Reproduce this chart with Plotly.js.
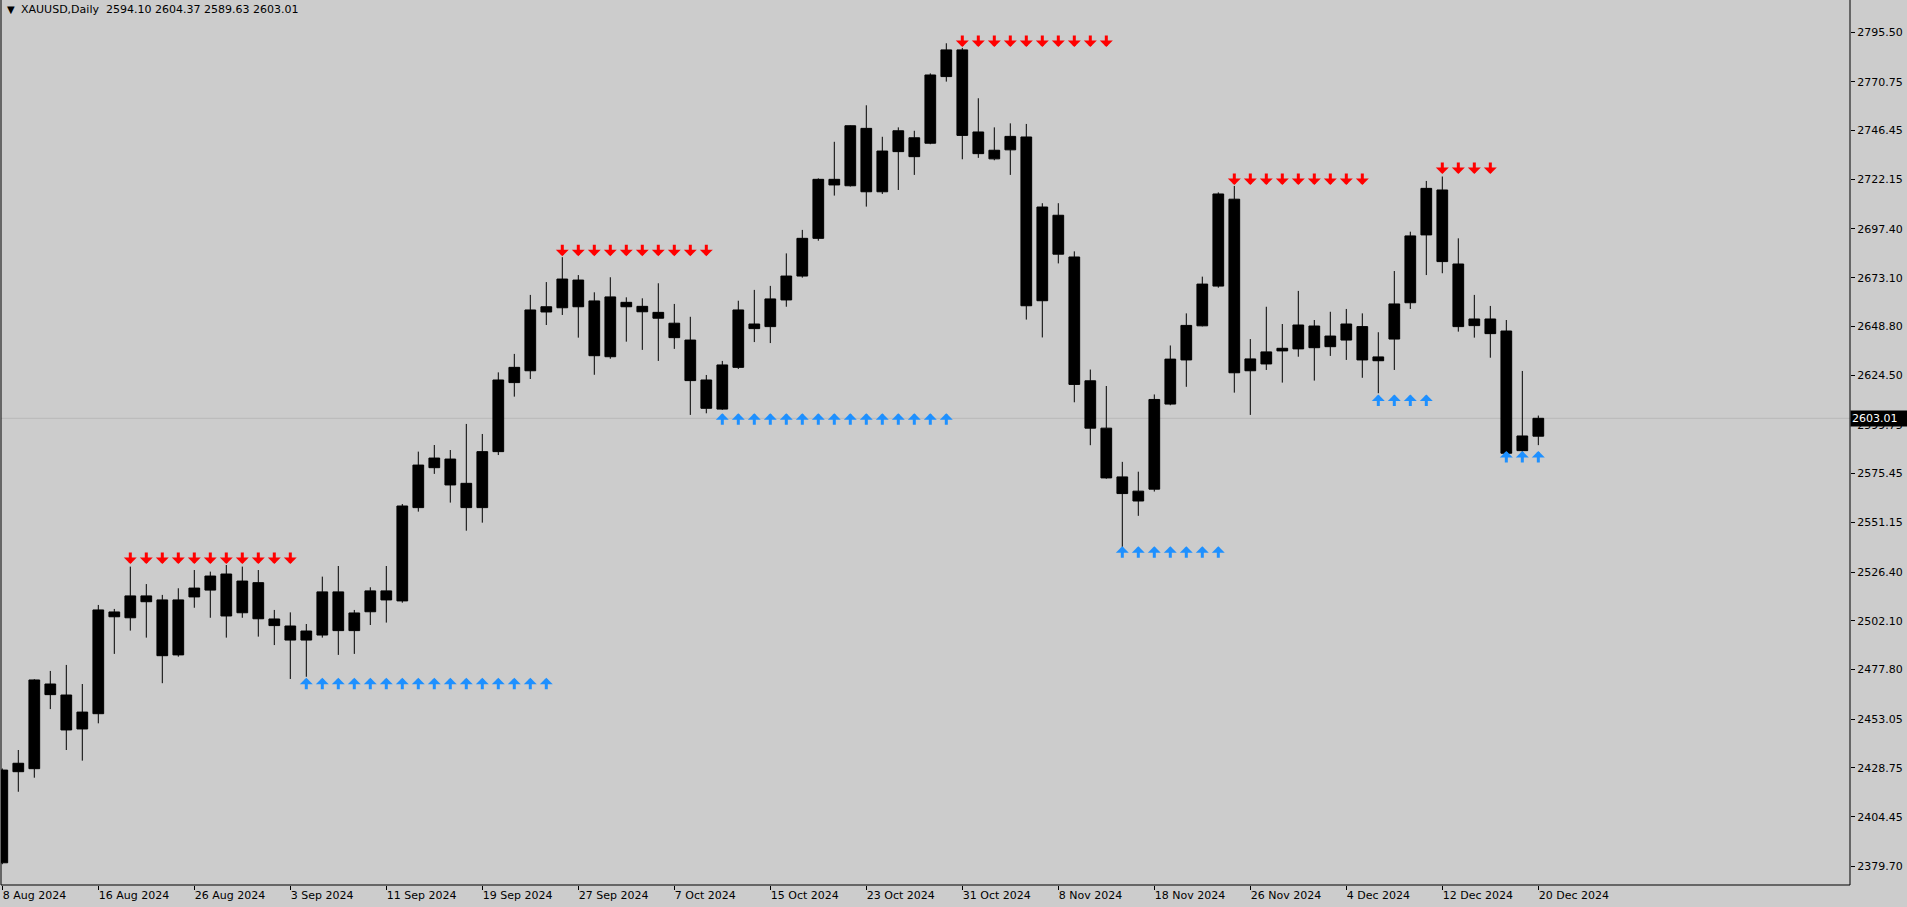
<!DOCTYPE html>
<html>
<head>
<meta charset="utf-8">
<script src="https://cdn.plot.ly/plotly-3.0.1.min.js"></script>
<style>
html,body{margin:0;padding:0;background:#cccccc;}
#chart{width:1907px;height:907px;}
</style>
</head>
<body>
<div id="chart"></div>
<script>
// ---- data ----
const dates = [
"2024-08-08","2024-08-09","2024-08-12","2024-08-13","2024-08-14","2024-08-15","2024-08-16","2024-08-19","2024-08-20","2024-08-21",
"2024-08-22","2024-08-23","2024-08-26","2024-08-27","2024-08-28","2024-08-29","2024-08-30","2024-09-02","2024-09-03","2024-09-04",
"2024-09-05","2024-09-06","2024-09-09","2024-09-10","2024-09-11","2024-09-12","2024-09-13","2024-09-16","2024-09-17","2024-09-18",
"2024-09-19","2024-09-20","2024-09-23","2024-09-24","2024-09-25","2024-09-26","2024-09-27","2024-09-30","2024-10-01","2024-10-02",
"2024-10-03","2024-10-04","2024-10-07","2024-10-08","2024-10-09","2024-10-10","2024-10-11","2024-10-14","2024-10-15","2024-10-16",
"2024-10-17","2024-10-18","2024-10-21","2024-10-22","2024-10-23","2024-10-24","2024-10-25","2024-10-28","2024-10-29","2024-10-30",
"2024-10-31","2024-11-01","2024-11-04","2024-11-05","2024-11-06","2024-11-07","2024-11-08","2024-11-11","2024-11-12","2024-11-13",
"2024-11-14","2024-11-15","2024-11-18","2024-11-19","2024-11-20","2024-11-21","2024-11-22","2024-11-25","2024-11-26","2024-11-27",
"2024-11-28","2024-11-29","2024-12-02","2024-12-03","2024-12-04","2024-12-05","2024-12-06","2024-12-09","2024-12-10","2024-12-11",
"2024-12-12","2024-12-13","2024-12-16","2024-12-17","2024-12-18","2024-12-19","2024-12-20"
];
const openP = [
2381.5,2426.9,2428.4,2470.6,2465.1,2448.2,2455.8,2506.5,2503.6,2514.5,
2512.5,2485.1,2514.0,2517.4,2525.4,2506.1,2521.1,2503.0,2499.5,2492.5,
2495.0,2516.5,2497.2,2506.6,2517.0,2512.0,2558.5,2578.4,2582.7,2570.6,
2558.5,2586.4,2620.8,2626.7,2656.0,2658.1,2671.9,2661.5,2633.7,2660.8,
2658.8,2655.8,2650.4,2642.0,2622.1,2607.6,2628.4,2650.0,2648.7,2662.0,
2673.9,2692.7,2722.1,2718.9,2747.5,2715.9,2735.9,2742.8,2740.1,2773.3,
2786.6,2745.7,2732.3,2736.8,2743.2,2661.6,2704.2,2683.4,2621.7,2598.1,
2573.8,2566.7,2567.7,2610.1,2632.1,2649.1,2668.9,2712.2,2626.7,2630.1,
2636.6,2637.6,2649.0,2638.7,2642.0,2648.7,2633.6,2642.5,2660.6,2694.4,
2716.8,2679.9,2652.5,2652.5,2646.5,2586.9,2594.10
];
const highP = [
2428.5,2437.7,2473.0,2477.1,2480.1,2470.6,2510.0,2508.0,2529.1,2520.4,
2515.0,2518.3,2527.4,2526.6,2529.9,2529.1,2527.4,2507.5,2506.3,2500.5,
2524.1,2529.4,2507.5,2518.8,2529.4,2560.3,2586.4,2589.7,2587.2,2600.2,
2595.2,2625.9,2635.1,2664.5,2670.9,2683.3,2674.4,2665.8,2673.3,2663.3,
2662.8,2670.3,2660.0,2653.6,2624.6,2631.6,2661.6,2667.0,2669.0,2685.2,
2696.9,2722.6,2740.8,2749.0,2759.0,2743.3,2748.0,2746.3,2774.9,2789.9,
2787.6,2762.5,2748.0,2750.0,2749.7,2710.2,2710.2,2686.2,2627.3,2619.1,
2581.3,2576.4,2614.9,2639.3,2655.3,2673.6,2715.6,2718.8,2642.5,2658.6,
2650.0,2666.5,2652.0,2656.1,2657.5,2655.3,2645.9,2676.4,2696.0,2721.3,
2723.5,2692.7,2664.5,2659.0,2652.0,2626.6,2604.37
];
const lowP = [
2380.8,2416.9,2423.9,2458.1,2437.7,2432.4,2451.0,2485.6,2497.2,2493.7,
2471.0,2484.2,2508.6,2503.6,2493.7,2503.6,2494.2,2490.0,2473.1,2474.2,
2493.7,2485.1,2485.6,2500.0,2501.2,2511.1,2556.5,2575.3,2561.0,2547.0,
2551.0,2584.7,2613.8,2622.6,2649.5,2654.5,2643.2,2624.7,2632.7,2641.2,
2637.1,2631.6,2637.6,2604.7,2605.5,2607.2,2627.6,2641.0,2640.5,2658.6,
2673.1,2691.5,2714.0,2718.5,2708.5,2714.8,2716.8,2724.3,2739.6,2770.8,
2732.1,2732.8,2731.6,2724.3,2652.2,2643.3,2680.2,2611.0,2589.6,2572.9,
2538.9,2554.4,2566.5,2609.5,2618.7,2648.8,2668.1,2615.8,2604.7,2627.1,
2620.8,2633.7,2621.8,2634.1,2632.1,2623.2,2615.5,2627.1,2657.5,2674.4,
2675.3,2646.2,2643.2,2633.2,2584.7,2586.3,2589.63
];
const closeP = [
2427.7,2431.1,2472.6,2465.3,2447.7,2456.6,2507.5,2504.1,2514.5,2511.6,
2484.7,2512.5,2518.4,2524.4,2504.5,2521.9,2503.1,2499.7,2492.5,2497.0,
2516.5,2497.2,2506.0,2517.0,2512.5,2559.3,2579.7,2583.2,2569.8,2558.5,
2586.4,2622.1,2628.4,2657.0,2658.6,2672.4,2658.6,2634.2,2663.5,2658.6,
2656.1,2652.9,2643.2,2621.8,2608.0,2629.6,2657.0,2647.7,2662.5,2673.9,
2692.7,2722.1,2719.3,2748.8,2715.9,2736.2,2746.3,2733.4,2774.1,2786.6,
2744.0,2734.9,2736.6,2743.5,2659.1,2708.3,2684.8,2619.9,2598.1,2573.3,
2565.5,2561.8,2612.4,2632.5,2649.3,2669.9,2714.8,2625.7,2632.6,2636.1,
2637.9,2649.5,2638.2,2644.0,2650.0,2632.1,2631.7,2660.0,2693.9,2717.6,
2681.1,2648.7,2649.2,2645.2,2585.6,2594.2,2603.01
];

// x-axis labels (every 6th bar)
const xTickDates = ["2024-08-08","2024-08-16","2024-08-26","2024-09-03","2024-09-11","2024-09-19","2024-09-27","2024-10-07","2024-10-15","2024-10-23","2024-10-31","2024-11-08","2024-11-18","2024-11-26","2024-12-04","2024-12-12","2024-12-20"];
const xTickLabels = ["8 Aug 2024","16 Aug 2024","26 Aug 2024","3 Sep 2024","11 Sep 2024","19 Sep 2024","27 Sep 2024","7 Oct 2024","15 Oct 2024","23 Oct 2024","31 Oct 2024","8 Nov 2024","18 Nov 2024","26 Nov 2024","4 Dec 2024","12 Dec 2024","20 Dec 2024"];

// y-axis labels
const yTickVals = [2795.50,2770.75,2746.45,2722.15,2697.40,2673.10,2648.80,2624.50,2599.75,2575.45,2551.15,2526.40,2502.10,2477.80,2453.05,2428.75,2404.45,2379.70];
const yTickLabels = yTickVals.map(v => v.toFixed(2));

// indicator arrows: down (red) groups and up (blue) groups
const dnStart = [8, 35, 60, 77, 90];
const dnEnd   = [18, 44, 69, 85, 93];
const dnLevel = [2530.4, 2683.8, 2788.0, 2719.3, 2724.8];
const upStart = [19, 45, 70, 86, 94];
const upEnd   = [34, 59, 76, 89, 96];
const upLevel = [2473.7, 2605.5, 2539.2, 2614.9, 2586.7];

// header / current price
const symbolText = "XAUUSD,Daily";
const lastOHLC = [2594.10, 2604.37, 2589.63, 2603.01];
const lastPrice = 2603.01;

// ---- chart ----
const FONT = "DejaVu Sans, Verdana, sans-serif";
const annotations = [];

function addArrows(starts, ends, levels, color, dir) {
  for (let g = 0; g < starts.length; g++) {
    for (let i = starts[g]; i <= ends[g]; i++) {
      annotations.push({
        x: dates[i], y: levels[g], xref: 'x', yref: 'y',
        text: '', showarrow: true,
        ax: 0, ay: dir === 'down' ? -13 : 13,
        axref: 'pixel', ayref: 'pixel',
        arrowhead: 1, arrowsize: 0.72, arrowwidth: 3,
        arrowcolor: color, standoff: 0
      });
    }
  }
}
addArrows(dnStart, dnEnd, dnLevel, '#ff0000', 'down');
addArrows(upStart, upEnd, upLevel, '#1e90ff', 'up');

annotations.push({
  xref: 'paper', yref: 'paper', x: 0, y: 1, xanchor: 'left', yanchor: 'top',
  xshift: 4, yshift: -2, showarrow: false,
  text: '▼', font: {family: FONT, size: 10, color: '#000'}
});
annotations.push({
  xref: 'paper', yref: 'paper', x: 0, y: 1, xanchor: 'left', yanchor: 'top',
  xshift: 18, yshift: -1, showarrow: false,
  text: symbolText + '  ' + lastOHLC.map(v => v.toFixed(2)).join(' '),
  font: {family: FONT, size: 11, color: '#000'}
});
annotations.push({
  xref: 'paper', yref: 'y', x: 1, y: lastPrice, xanchor: 'left', yanchor: 'middle',
  showarrow: false, text: lastPrice.toFixed(2), align: 'left',
  bgcolor: '#000000', borderpad: 1, width: 54,
  font: {family: FONT, size: 11, color: '#ffffff'}
});

const trace = {
  type: 'candlestick',
  x: dates, open: openP, high: highP, low: lowP, close: closeP,
  increasing: {line: {color: '#000000', width: 1}, fillcolor: '#000000'},
  decreasing: {line: {color: '#000000', width: 1}, fillcolor: '#000000'},
  whiskerwidth: 0,
  hoverinfo: 'none'
};

const layout = {
  width: 1907, height: 907,
  margin: {l: 1, r: 57, t: 0, b: 22, pad: 0, autoexpand: false},
  paper_bgcolor: '#cccccc', plot_bgcolor: '#cccccc',
  showlegend: false,
  boxgap: 0.33, boxgroupgap: 0,
  font: {family: FONT, size: 11, color: '#000'},
  xaxis: {
    type: 'category',
    range: [-0.081, 115.48],
    rangeslider: {visible: false},
    automargin: false,
    tickmode: 'array', tickvals: xTickDates, ticktext: xTickLabels,
    ticks: 'outside', ticklen: 4, tickcolor: '#000', tickwidth: 1,
    ticklabelposition: 'outside right',
    tickfont: {family: FONT, size: 11, color: '#000'},
    showline: false,
    showgrid: false, zeroline: false, fixedrange: true
  },
  yaxis: {
    side: 'right',
    range: [2370.43, 2811.47],
    automargin: false,
    tickmode: 'array', tickvals: yTickVals, ticktext: yTickLabels,
    ticks: 'outside', ticklen: 4, tickcolor: '#000', tickwidth: 1,
    tickfont: {family: FONT, size: 11, color: '#000'},
    showline: false,
    showgrid: false, zeroline: false, fixedrange: true
  },
  shapes: [
    {type: 'line', xref: 'paper', yref: 'y', x0: 0, x1: 1, y0: lastPrice, y1: lastPrice,
     line: {color: '#b8b8b8', width: 1}, layer: 'below'},
    {type: 'line', xref: 'paper', yref: 'paper', x0: 1, x1: 1, y0: 0, y1: 1,
     line: {color: '#000000', width: 1}, layer: 'above'},
    {type: 'line', xref: 'paper', yref: 'paper', x0: 0, x1: 0, y0: 0, y1: 1,
     line: {color: '#000000', width: 1}, layer: 'above'},
    {type: 'line', xref: 'paper', yref: 'paper', x0: 0, x1: 1, y0: 0, y1: 0,
     line: {color: '#000000', width: 1}, layer: 'above'}
  ],
  annotations: annotations
};

Plotly.newPlot('chart', [trace], layout, {staticPlot: true, displayModeBar: false});
</script>
</body>
</html>
